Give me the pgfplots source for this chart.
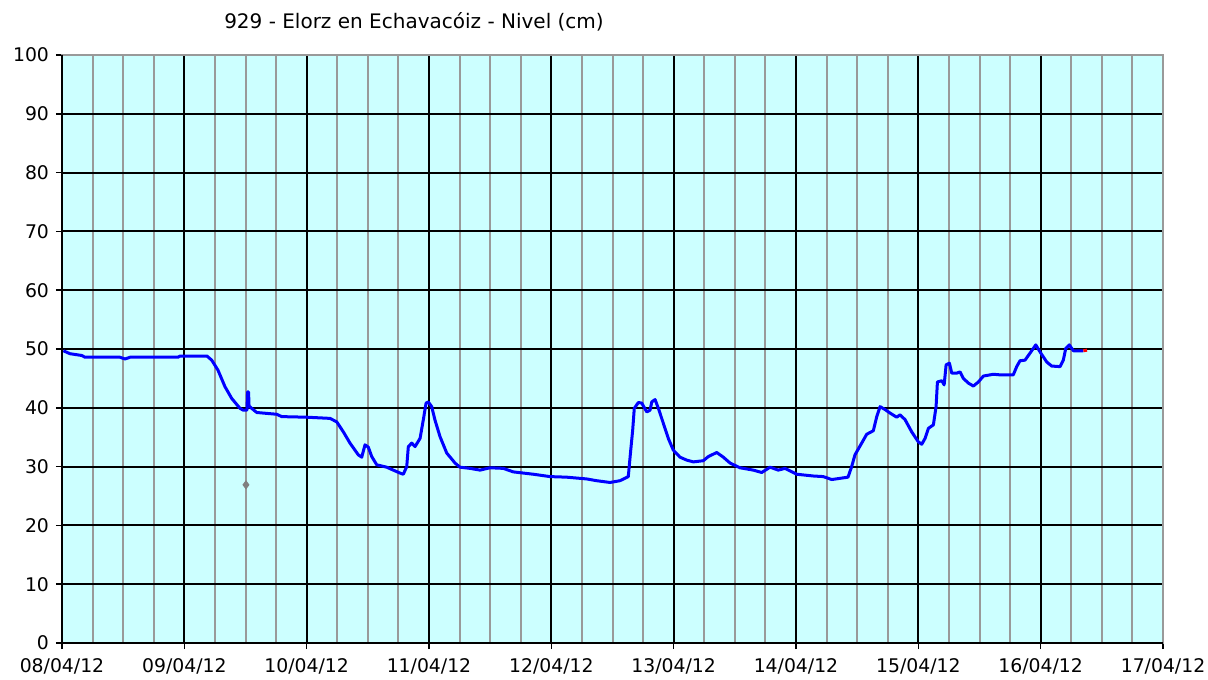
\documentclass[border=0pt]{standalone}
\usepackage{fontspec}
\setmainfont{DejaVu Sans}
\usepackage{pgfplots}
\pgfplotsset{compat=1.18}
\definecolor{bgcyan}{HTML}{CCFFFF}
\definecolor{gridgray}{HTML}{999999}
\definecolor{lineblue}{HTML}{0000FF}
\begin{document}
\begin{tikzpicture}
\begin{axis}[
  name=ax,
  scale only axis,
  width=550.5pt, height=294pt,
  xmin=0, xmax=9, ymin=0, ymax=100,
  axis background/.style={fill=bgcyan},
  xtick={0,1,...,9},
  xticklabels={08/04/12,09/04/12,10/04/12,11/04/12,12/04/12,13/04/12,14/04/12,15/04/12,16/04/12,17/04/12},
  minor x tick num=3,
  ytick={0,10,...,100},
  grid=both,
  major grid style={black, line width=1pt},
  minor grid style={gridgray, line width=1pt},
  axis line style={gridgray, line width=1pt},
  tick align=outside,
  xtick pos=bottom, ytick pos=left,
  major tick length=3pt,
  minor tick length=0pt,
  every tick/.style={black, line width=0.8pt},
  tick label style={font=\fontsize{9.4}{10}\selectfont},
  /pgf/number format/assume math mode=true,
  xticklabel style={yshift=-1pt},
  clip=false,
]
\addplot[lineblue, line width=1.5pt, line join=round] table {
x y
0.011 49.7
0.065 49.2
0.161 48.9
0.188 48.6
0.474 48.6
0.515 48.3
0.556 48.6
0.948 48.6
0.965 48.8
1.185 48.8
1.224 48.1
1.275 46.4
1.332 43.6
1.387 41.6
1.455 39.9
1.482 39.6
1.512 39.6
1.517 42.7
1.525 42.7
1.529 40.3
1.551 39.9
1.592 39.2
1.755 38.9
1.796 38.5
2.000 38.4
2.191 38.2
2.246 37.6
2.300 35.9
2.354 34.0
2.422 32.0
2.450 31.6
2.477 33.7
2.504 33.3
2.532 31.7
2.573 30.3
2.654 29.9
2.708 29.4
2.763 28.9
2.790 28.7
2.818 30.0
2.831 33.4
2.859 34.0
2.886 33.4
2.927 34.8
2.953 37.9
2.976 40.8
2.994 41.0
3.022 40.2
3.049 37.9
3.090 35.1
3.145 32.3
3.213 30.6
3.253 29.9
3.335 29.7
3.417 29.4
3.499 29.8
3.607 29.7
3.689 29.1
3.853 28.7
3.989 28.3
4.126 28.2
4.289 27.9
4.371 27.6
4.480 27.3
4.561 27.6
4.629 28.3
4.649 32.8
4.665 36.2
4.678 39.9
4.711 40.9
4.739 40.8
4.780 39.3
4.807 39.6
4.821 41.0
4.848 41.4
4.875 39.9
4.915 37.4
4.956 34.8
4.997 32.8
5.052 31.6
5.107 31.1
5.161 30.8
5.242 31.0
5.283 31.7
5.352 32.4
5.406 31.6
5.461 30.6
5.542 29.8
5.651 29.4
5.720 29.0
5.788 29.9
5.855 29.4
5.910 29.7
6.006 28.7
6.142 28.4
6.223 28.3
6.292 27.8
6.425 28.2
6.455 30.0
6.482 32.0
6.537 34.0
6.578 35.5
6.632 36.1
6.660 38.5
6.687 40.2
6.728 39.7
6.769 39.1
6.823 38.4
6.850 38.8
6.891 38.0
6.946 35.9
7.000 34.2
7.028 33.8
7.055 34.8
7.082 36.5
7.123 37.1
7.145 40.2
7.156 44.4
7.192 44.6
7.211 43.9
7.227 47.3
7.254 47.6
7.273 45.9
7.314 45.9
7.341 46.1
7.368 45.0
7.409 44.2
7.450 43.7
7.491 44.4
7.532 45.4
7.613 45.7
7.668 45.6
7.776 45.6
7.804 47.0
7.831 48.0
7.872 48.1
7.913 49.3
7.960 50.7
7.995 49.5
8.049 47.8
8.090 47.1
8.158 47.0
8.185 48.1
8.205 50.1
8.234 50.7
8.267 49.7
8.349 49.7
};
\addplot[red, line width=1.5pt] coordinates {(8.349,49.7) (8.379,49.8)};
\addplot[only marks, mark=diamond*, mark size=2pt, color=gray, mark options={fill=gray}] coordinates {(1.504,26.9)};
\draw[black, line width=1pt] (rel axis cs:0,1) -- (rel axis cs:0,0) -- (rel axis cs:1,0);
\node[font=\fontsize{10}{12}\selectfont] at (rel axis cs:0.3197,1) [yshift=16.5pt] {929 - Elorz en Echavacóiz - Nivel (cm)};
\end{axis}
\pgfresetboundingbox
\path (ax.south west) ++(-31pt,-18pt) rectangle ++(604pt,339.5pt);
\end{tikzpicture}
\end{document}
